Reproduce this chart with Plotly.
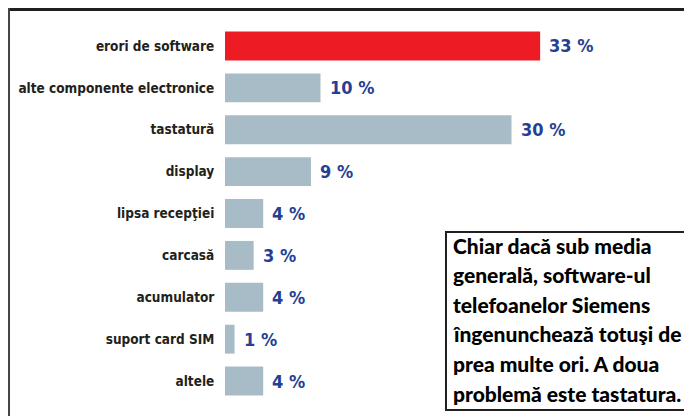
import plotly.graph_objects as go

categories = ["erori de software", "alte componente electronice", "tastatură", "display",
              "lipsa recepţiei", "carcasă", "acumulator", "suport card SIM", "altele"]
values = [33, 10, 30, 9, 4, 3, 4, 1, 4]
note_lines = ["Chiar dacă sub media", "generală, software-ul", "telefoanelor Siemens",
              "îngenunchează totuşi de", "prea multe ori. A doua", "problemă este tastatura."]

RED = "#ed1c24"
GREY = "#a8bcc7"
BLUE = "#263f93"
DARK = "#231f20"
NARROW = "DejaVu Sans Condensed"

colors = [RED] + [GREY] * (len(values) - 1)

fig = go.Figure(go.Bar(
    x=values, y=categories, orientation="h",
    marker=dict(color=colors, line=dict(width=0)),
    width=0.69, hoverinfo="skip",
))

# value labels just past each bar
for cat, v in zip(categories, values):
    fig.add_annotation(x=v, y=cat, text=f"{v} %", showarrow=False,
                       xanchor="left", xshift=7,
                       font=dict(family=NARROW, size=18, color=BLUE, weight="bold"))

# frame lines (page has an 8px body margin, so these sit on the figure's top/left edge)
fig.add_shape(type="line", xref="paper", yref="paper", x0=-0.47, x1=1.01, y0=1.0411, y1=1.0411,
              line=dict(color=DARK, width=3))
fig.add_shape(type="line", xref="paper", yref="paper", x0=-0.4625, x1=-0.4625, y0=1.045, y1=-0.05,
              line=dict(color="#444444", width=2))

# comment box
fig.add_shape(type="rect", xref="paper", yref="paper", x0=0.4732, x1=1.02, y0=-0.0212, y1=0.4509,
              line=dict(color=DARK, width=2), fillcolor="white")
for i, line in enumerate(note_lines):
    py = 245 + i * 29.6
    fig.add_annotation(xref="paper", yref="paper", x=(451 - 225) / 467, y=(402 - py) / 377,
                       xanchor="left", yanchor="middle", text=line, showarrow=False,
                       font=dict(family="Lato", size=21, color="black", weight=900))

fig.update_layout(
    width=684, height=408,
    margin=dict(l=217, r=0, t=17, b=14, autoexpand=False),
    paper_bgcolor="white", plot_bgcolor="white",
    showlegend=False,
    xaxis=dict(range=[0, 48.9], visible=False, fixedrange=True),
    yaxis=dict(autorange="reversed", showgrid=False, zeroline=False, showline=False,
               automargin=False,
               ticks="outside", ticklen=7, tickcolor="rgba(0,0,0,0)",
               tickfont=dict(family=NARROW, size=13.5, color=DARK, weight="bold")),
    bargap=0.31,
)

fig.write_html("out.html")
